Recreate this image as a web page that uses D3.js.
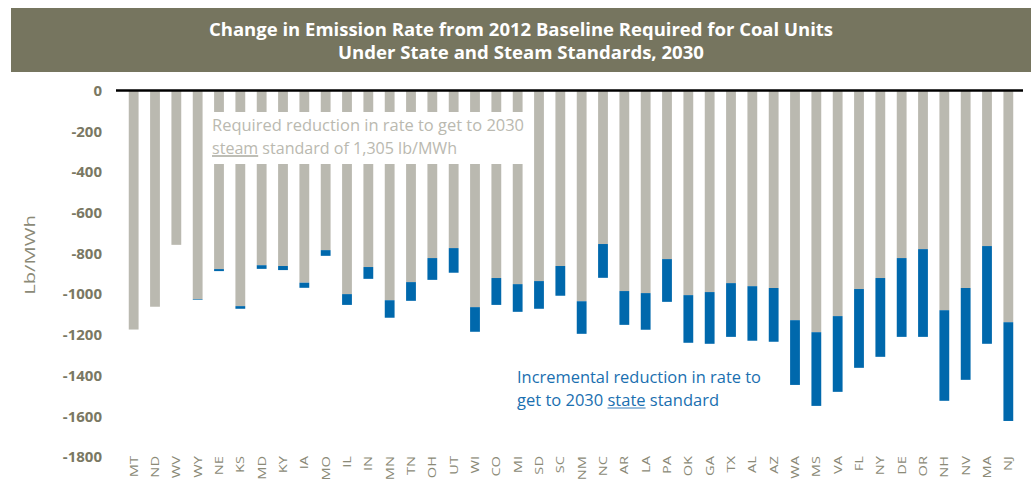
<!DOCTYPE html>
<html>
<head>
<meta charset="utf-8">
<script src="https://cdn.jsdelivr.net/npm/d3@7"></script>
<style>
  body { margin: 0; background: #fff; }
  svg { display: block; font-family: "Open Sans", "Noto Sans", sans-serif; }
</style>
</head>
<body>
<svg id="chart" width="1031" height="482"></svg>
<script>
// States, left to right
const states = ['MT','ND','WV','WY','NE','KS','MD','KY','IA','MO','IL','IN','MN','TN','OH','UT','WI','CO','MI','SD','SC','NM','NC','AR','LA','PA','OK','GA','TX','AL','AZ','WA','MS','VA','FL','NY','DE','OR','NH','NV','MA','NJ'];
// change needed to reach the steam standard (gray part)
const steamChange = [-1174,-1062,-758,-1025,-877,-1059,-858,-862,-944,-784,-1000,-867,-1030,-941,-823,-774,-1064,-921,-951,-936,-862,-1035,-754,-985,-995,-828,-1005,-990,-946,-961,-970,-1128,-1187,-1108,-975,-921,-823,-779,-1079,-970,-764,-1138];
// change needed to reach the state standard (bottom of blue part)
const stateChange = [-1174,-1062,-758,-1028,-887,-1072,-876,-882,-969,-812,-1053,-925,-1116,-1033,-930,-895,-1185,-1053,-1087,-1072,-1008,-1195,-920,-1151,-1175,-1038,-1239,-1244,-1210,-1229,-1234,-1446,-1549,-1480,-1362,-1308,-1210,-1210,-1524,-1421,-1244,-1623];
const yTicks = [0,-200,-400,-600,-800,-1000,-1200,-1400,-1600,-1800];

const gray = '#bab9b0';
const blue = '#0068ac';
const axisText = '#7a7863';

const svg = d3.select('#chart');

// fit a text element to a given width
function fit(sel, w) {
  sel.attr('textLength', w).attr('lengthAdjust', 'spacingAndGlyphs');
}

// Title box
svg.append('rect')
  .attr('x', 11).attr('y', 8)
  .attr('width', 1020).attr('height', 64)
  .attr('fill', '#76755f');

const titleLines = ['Change in Emission Rate from 2012 Baseline Required for Coal Units', 'Under State and Steam Standards, 2030'];
const titleW = [624, 366];
titleLines.forEach((t, i) => {
  svg.append('text')
    .attr('x', 521).attr('y', 36 + i * 23)
    .attr('text-anchor', 'middle')
    .attr('fill', '#fff')
    .attr('font-weight', 700)
    .attr('font-size', 18)
    .text(t)
    .call(fit, titleW[i]);
});

// Scales
const x = d3.scaleBand()
  .domain(states)
  .range([123, 1019])
  .paddingInner(0.54)
  .paddingOuter(0.27);

const y = d3.scaleLinear()
  .domain([-1800, 0])
  .range([457, 90.5]);

// Y axis labels (plain hyphen, not the unicode minus)
const yAxis = svg.append('g')
  .attr('transform', 'translate(102,0)')
  .call(d3.axisLeft(y).tickValues(yTicks).tickSize(0).tickPadding(0).tickFormat(d => String(d)));
yAxis.select('.domain').remove();
yAxis.selectAll('text')
  .attr('fill', axisText)
  .attr('font-size', 15)
  .attr('font-weight', 700)
  .attr('font-family', '"Open Sans", sans-serif');

svg.append('text')
  .attr('transform', 'translate(35,255) rotate(-90) scale(1.35,1)')
  .attr('text-anchor', 'middle')
  .attr('fill', '#8b8a77')
  .attr('font-size', 15)
  .text('Lb/MWh');

// Bars
const rows = states.map((s, i) => ({ state: s, steam: steamChange[i], total: stateChange[i] }));

svg.append('g').selectAll('rect')
  .data(rows)
  .enter()
  .append('rect')
  .attr('x', d => x(d.state))
  .attr('width', x.bandwidth())
  .attr('y', y(0))
  .attr('height', d => y(d.steam) - y(0))
  .attr('fill', gray);

svg.append('g').selectAll('rect')
  .data(rows.filter(d => d.total < d.steam))
  .enter()
  .append('rect')
  .attr('x', d => x(d.state))
  .attr('width', x.bandwidth())
  .attr('y', d => y(d.steam))
  .attr('height', d => y(d.total) - y(d.steam))
  .attr('fill', blue);

// zero line
svg.append('line')
  .attr('x1', 116).attr('x2', 1023)
  .attr('y1', y(0)).attr('y2', y(0))
  .attr('stroke', '#000')
  .attr('stroke-width', 2.5);

// X labels
svg.append('g').selectAll('text')
  .data(states)
  .enter()
  .append('text')
  .attr('transform', d => `translate(${x(d) + x.bandwidth() / 2},456) rotate(-90) scale(1.33,1)`)
  .attr('text-anchor', 'end')
  .attr('dy', '0.35em')
  .attr('fill', '#8b8a77')
  .attr('font-size', 11)
  .text(d => d);

// Annotation: steam standard (white panel cuts through the bars)
svg.append('rect')
  .attr('x', 204).attr('y', 112)
  .attr('width', 326).attr('height', 52)
  .attr('fill', '#fff');

function note(lines, widths, x0, y0, color, size, ulWord, ulColor) {
  lines.forEach((t, i) => {
    const txt = svg.append('text')
      .attr('x', x0).attr('y', y0 + i * 23)
      .attr('fill', color)
      .attr('font-size', size)
      .text(t)
      .call(fit, widths[i]);
    const k = t.indexOf(ulWord);
    if (k >= 0) {
      const node = txt.node();
      const a = node.getStartPositionOfChar(k).x;
      const b = node.getEndPositionOfChar(k + ulWord.length - 1).x;
      svg.append('line')
        .attr('x1', a).attr('x2', b)
        .attr('y1', y0 + i * 23 + 2).attr('y2', y0 + i * 23 + 2)
        .attr('stroke', ulColor)
        .attr('stroke-width', 1.3);
    }
  });
}

note(['Required reduction in rate to get to 2030', 'steam standard of 1,305 lb/MWh'], [312, 245],
  212, 131, gray, 16, 'steam', '#a9a89e');

note(['Incremental reduction in rate to', 'get to 2030 state standard'], [244, 202],
  517, 383, '#1a6fb0', 16.5, 'state', '#7aa8d2');
</script>
</body>
</html>
